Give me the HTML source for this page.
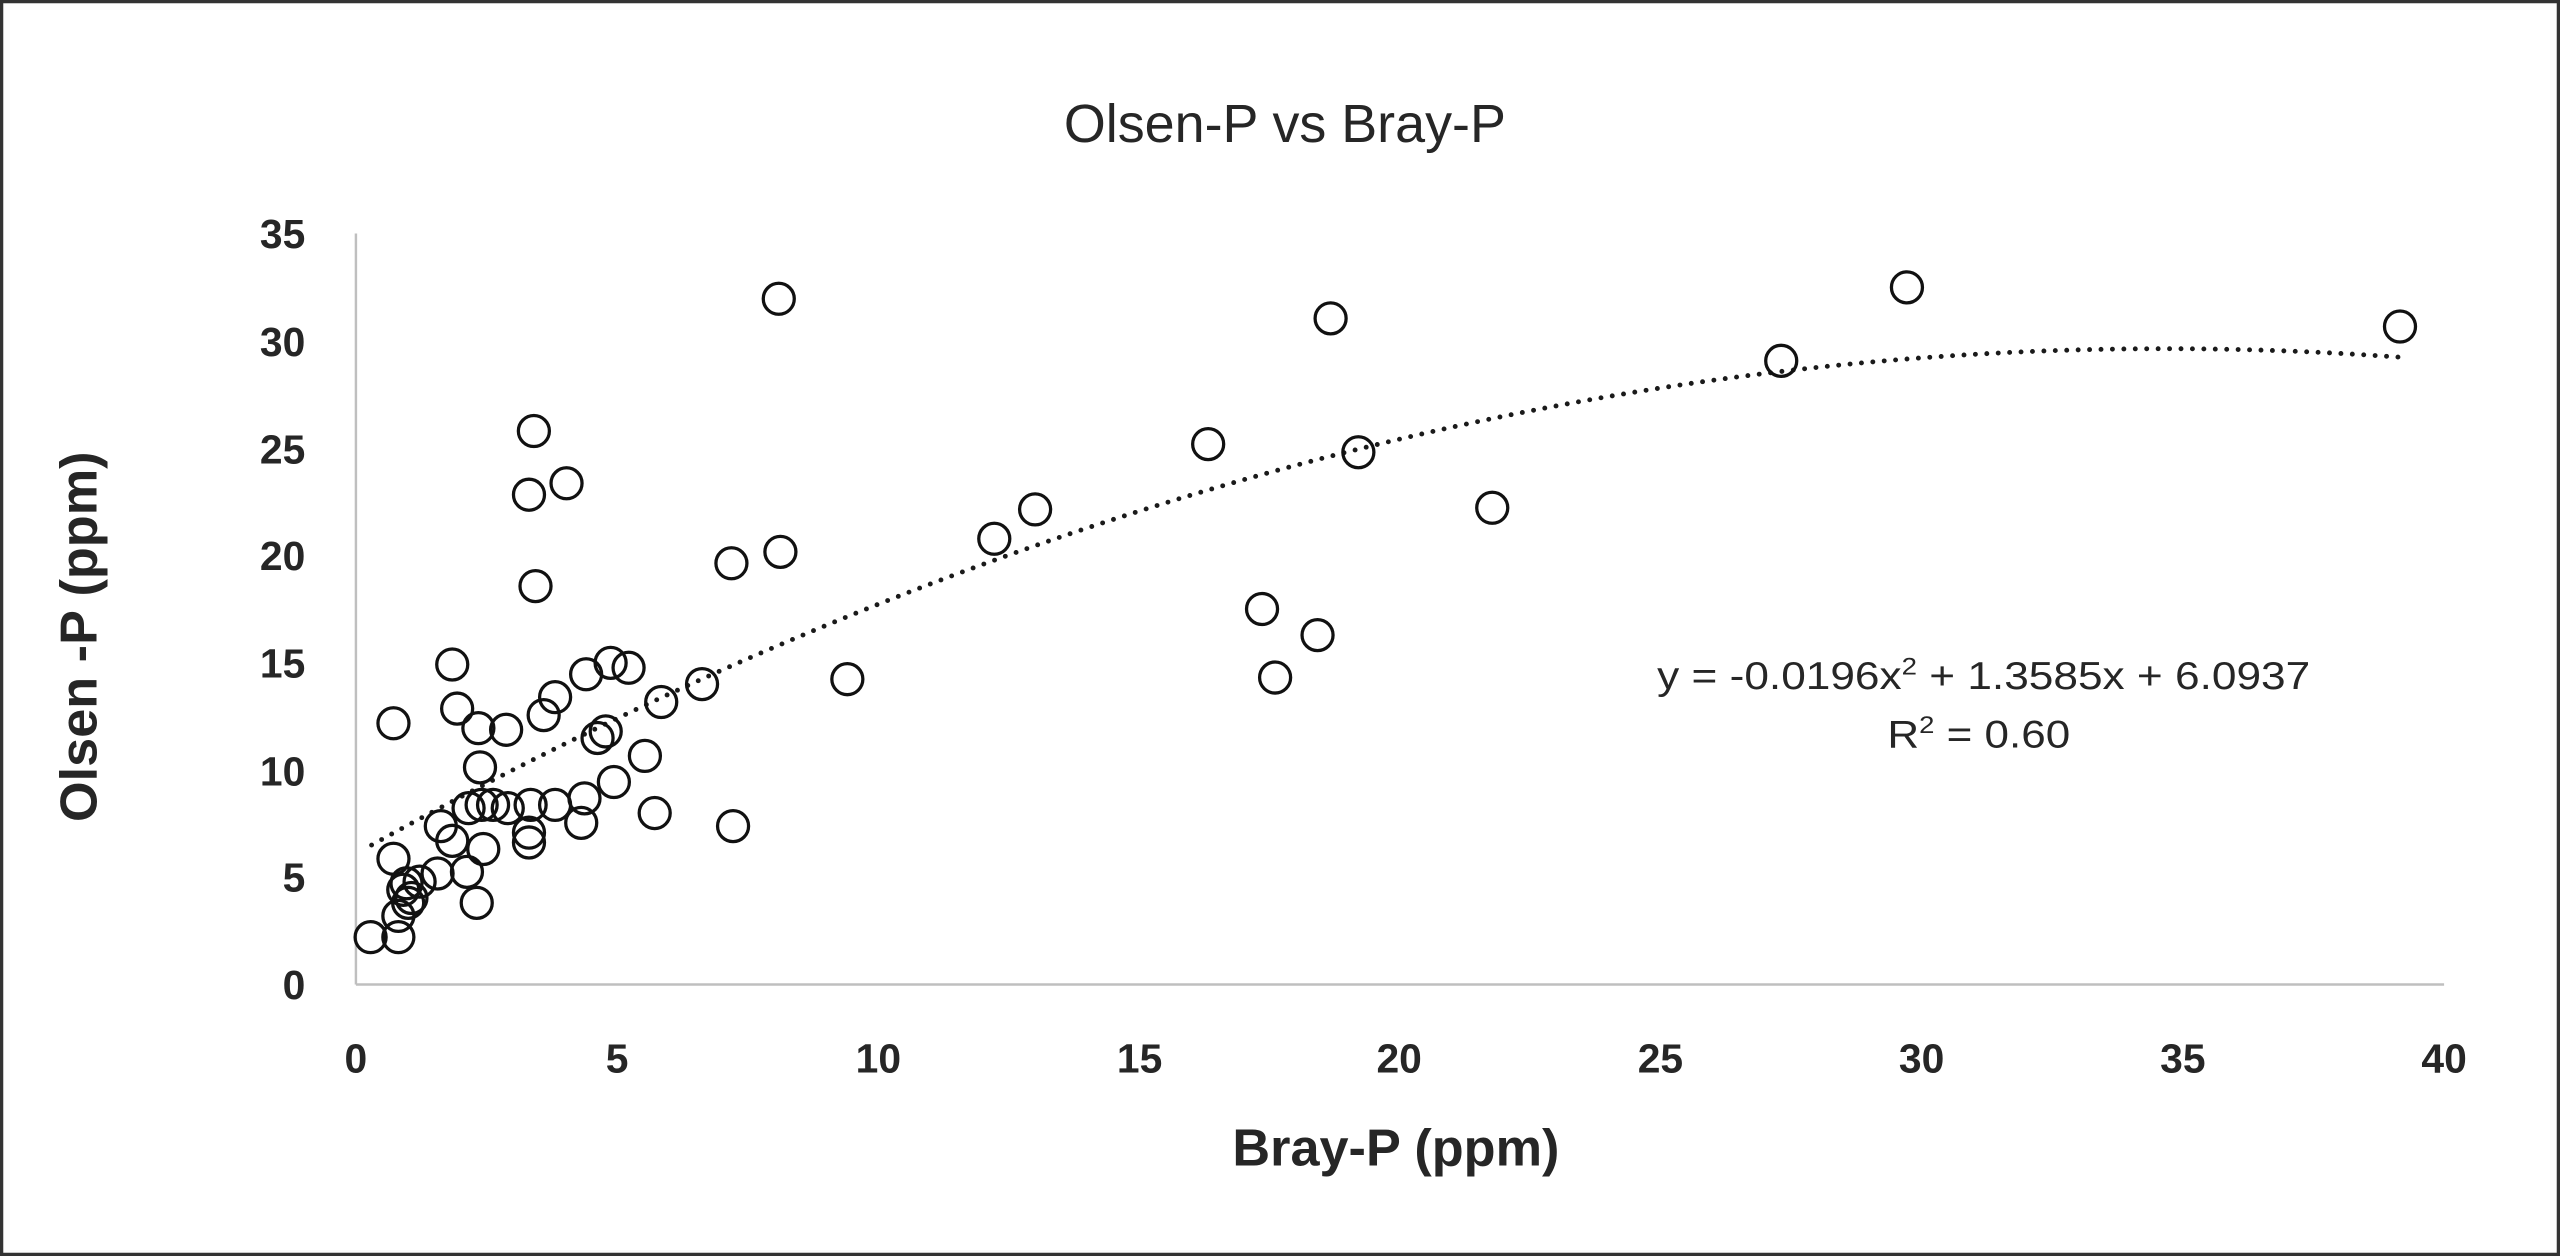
<!DOCTYPE html>
<html><head><meta charset="utf-8"><style>
html,body{margin:0;padding:0;background:#fff;}
svg{display:block;}
text{font-family:"Liberation Sans",Arial,sans-serif;fill:#262626;}
</style></head><body>
<svg width="2560" height="1256" viewBox="0 0 1568 769.3" xmlns="http://www.w3.org/2000/svg">
<rect x="0" y="0" width="1568" height="769.3" fill="#fff"/>
<rect x="1" y="1" width="1566" height="767.3" fill="none" stroke="#333" stroke-width="2"/>
<text x="787" y="87" font-size="33" text-anchor="middle">Olsen-P vs Bray-P</text>
<line x1="218" y1="143" x2="218" y2="603" stroke="#bfbfbf" stroke-width="1.5"/>
<line x1="218" y1="603" x2="1497" y2="603" stroke="#bfbfbf" stroke-width="1.5"/>
<g font-size="25" font-weight="bold" text-anchor="end">
<text x="187" y="612">0</text><text x="187" y="546">5</text><text x="187" y="481">10</text>
<text x="187" y="415">15</text><text x="187" y="349">20</text><text x="187" y="284">25</text>
<text x="187" y="218">30</text><text x="187" y="152">35</text>
</g>
<g font-size="25" font-weight="bold" text-anchor="middle">
<text x="218" y="657">0</text><text x="378" y="657">5</text><text x="538" y="657">10</text>
<text x="698" y="657">15</text><text x="857" y="657">20</text><text x="1017" y="657">25</text>
<text x="1177" y="657">30</text><text x="1337" y="657">35</text><text x="1497" y="657">40</text>
</g>
<text x="855" y="714" font-size="32" font-weight="bold" text-anchor="middle">Bray-P (ppm)</text>
<text transform="translate(59,390) rotate(-90)" font-size="32" font-weight="bold" text-anchor="middle">Olsen -P (ppm)</text>
<path d="M227.6,517.6 Q849.5,173.4 1471.4,218.9" fill="none" stroke="#1a1a1a" stroke-width="3" stroke-linecap="round" stroke-dasharray="0 7"/>
<g fill="none" stroke="#111" stroke-width="2">
<circle cx="227" cy="574" r="9.5"/><circle cx="244" cy="574" r="9.5"/><circle cx="241" cy="526" r="9.5"/><circle cx="241" cy="443" r="9.5"/>
<circle cx="244" cy="561" r="9.5"/><circle cx="247" cy="545" r="9.5"/><circle cx="249" cy="541" r="9.5"/><circle cx="250" cy="553" r="9.5"/>
<circle cx="252" cy="550" r="9.5"/><circle cx="257" cy="540" r="9.5"/><circle cx="268" cy="535" r="9.5"/><circle cx="270" cy="506" r="9.5"/>
<circle cx="277" cy="515" r="9.5"/><circle cx="277" cy="407" r="9.5"/><circle cx="280" cy="434" r="9.5"/><circle cx="286" cy="534" r="9.5"/>
<circle cx="287" cy="495" r="9.5"/><circle cx="294" cy="470" r="9.5"/><circle cx="293" cy="446" r="9.5"/><circle cx="296" cy="520" r="9.5"/>
<circle cx="292" cy="553" r="9.5"/><circle cx="295" cy="493" r="9.5"/><circle cx="302" cy="493" r="9.5"/><circle cx="310" cy="447" r="9.5"/>
<circle cx="311" cy="495" r="9.5"/><circle cx="325" cy="493" r="9.5"/><circle cx="324" cy="510" r="9.5"/><circle cx="324" cy="516" r="9.5"/>
<circle cx="324" cy="303" r="9.5"/><circle cx="327" cy="264" r="9.5"/><circle cx="328" cy="359" r="9.5"/><circle cx="333" cy="438" r="9.5"/>
<circle cx="340" cy="427" r="9.5"/><circle cx="347" cy="296" r="9.5"/><circle cx="340" cy="493" r="9.5"/><circle cx="356" cy="504" r="9.5"/>
<circle cx="358" cy="489" r="9.5"/><circle cx="359" cy="413" r="9.5"/><circle cx="366" cy="452" r="9.5"/><circle cx="371" cy="448" r="9.5"/>
<circle cx="374" cy="406" r="9.5"/><circle cx="376" cy="479" r="9.5"/><circle cx="385" cy="409" r="9.5"/><circle cx="395" cy="463" r="9.5"/>
<circle cx="401" cy="498" r="9.5"/><circle cx="405" cy="430" r="9.5"/><circle cx="430" cy="419" r="9.5"/><circle cx="449" cy="506" r="9.5"/>
<circle cx="448" cy="345" r="9.5"/><circle cx="477" cy="183" r="9.5"/><circle cx="478" cy="338" r="9.5"/><circle cx="519" cy="416" r="9.5"/>
<circle cx="609" cy="330" r="9.5"/><circle cx="634" cy="312" r="9.5"/><circle cx="740" cy="272" r="9.5"/><circle cx="773" cy="373" r="9.5"/>
<circle cx="781" cy="415" r="9.5"/><circle cx="807" cy="389" r="9.5"/><circle cx="815" cy="195" r="9.5"/><circle cx="832" cy="277" r="9.5"/>
<circle cx="914" cy="311" r="9.5"/><circle cx="1091" cy="221" r="9.5"/><circle cx="1168" cy="176" r="9.5"/><circle cx="1470" cy="200" r="9.5"/>
</g>
<text x="1215" y="422" font-size="24" text-anchor="middle" textLength="400" lengthAdjust="spacingAndGlyphs">y = -0.0196x<tspan dy="-9" font-size="15">2</tspan><tspan dy="9"> + 1.3585x + 6.0937</tspan></text>
<text x="1212" y="458" font-size="24" text-anchor="middle" textLength="112" lengthAdjust="spacingAndGlyphs">R<tspan dy="-9" font-size="15">2</tspan><tspan dy="9"> = 0.60</tspan></text>
</svg>
</body></html>
